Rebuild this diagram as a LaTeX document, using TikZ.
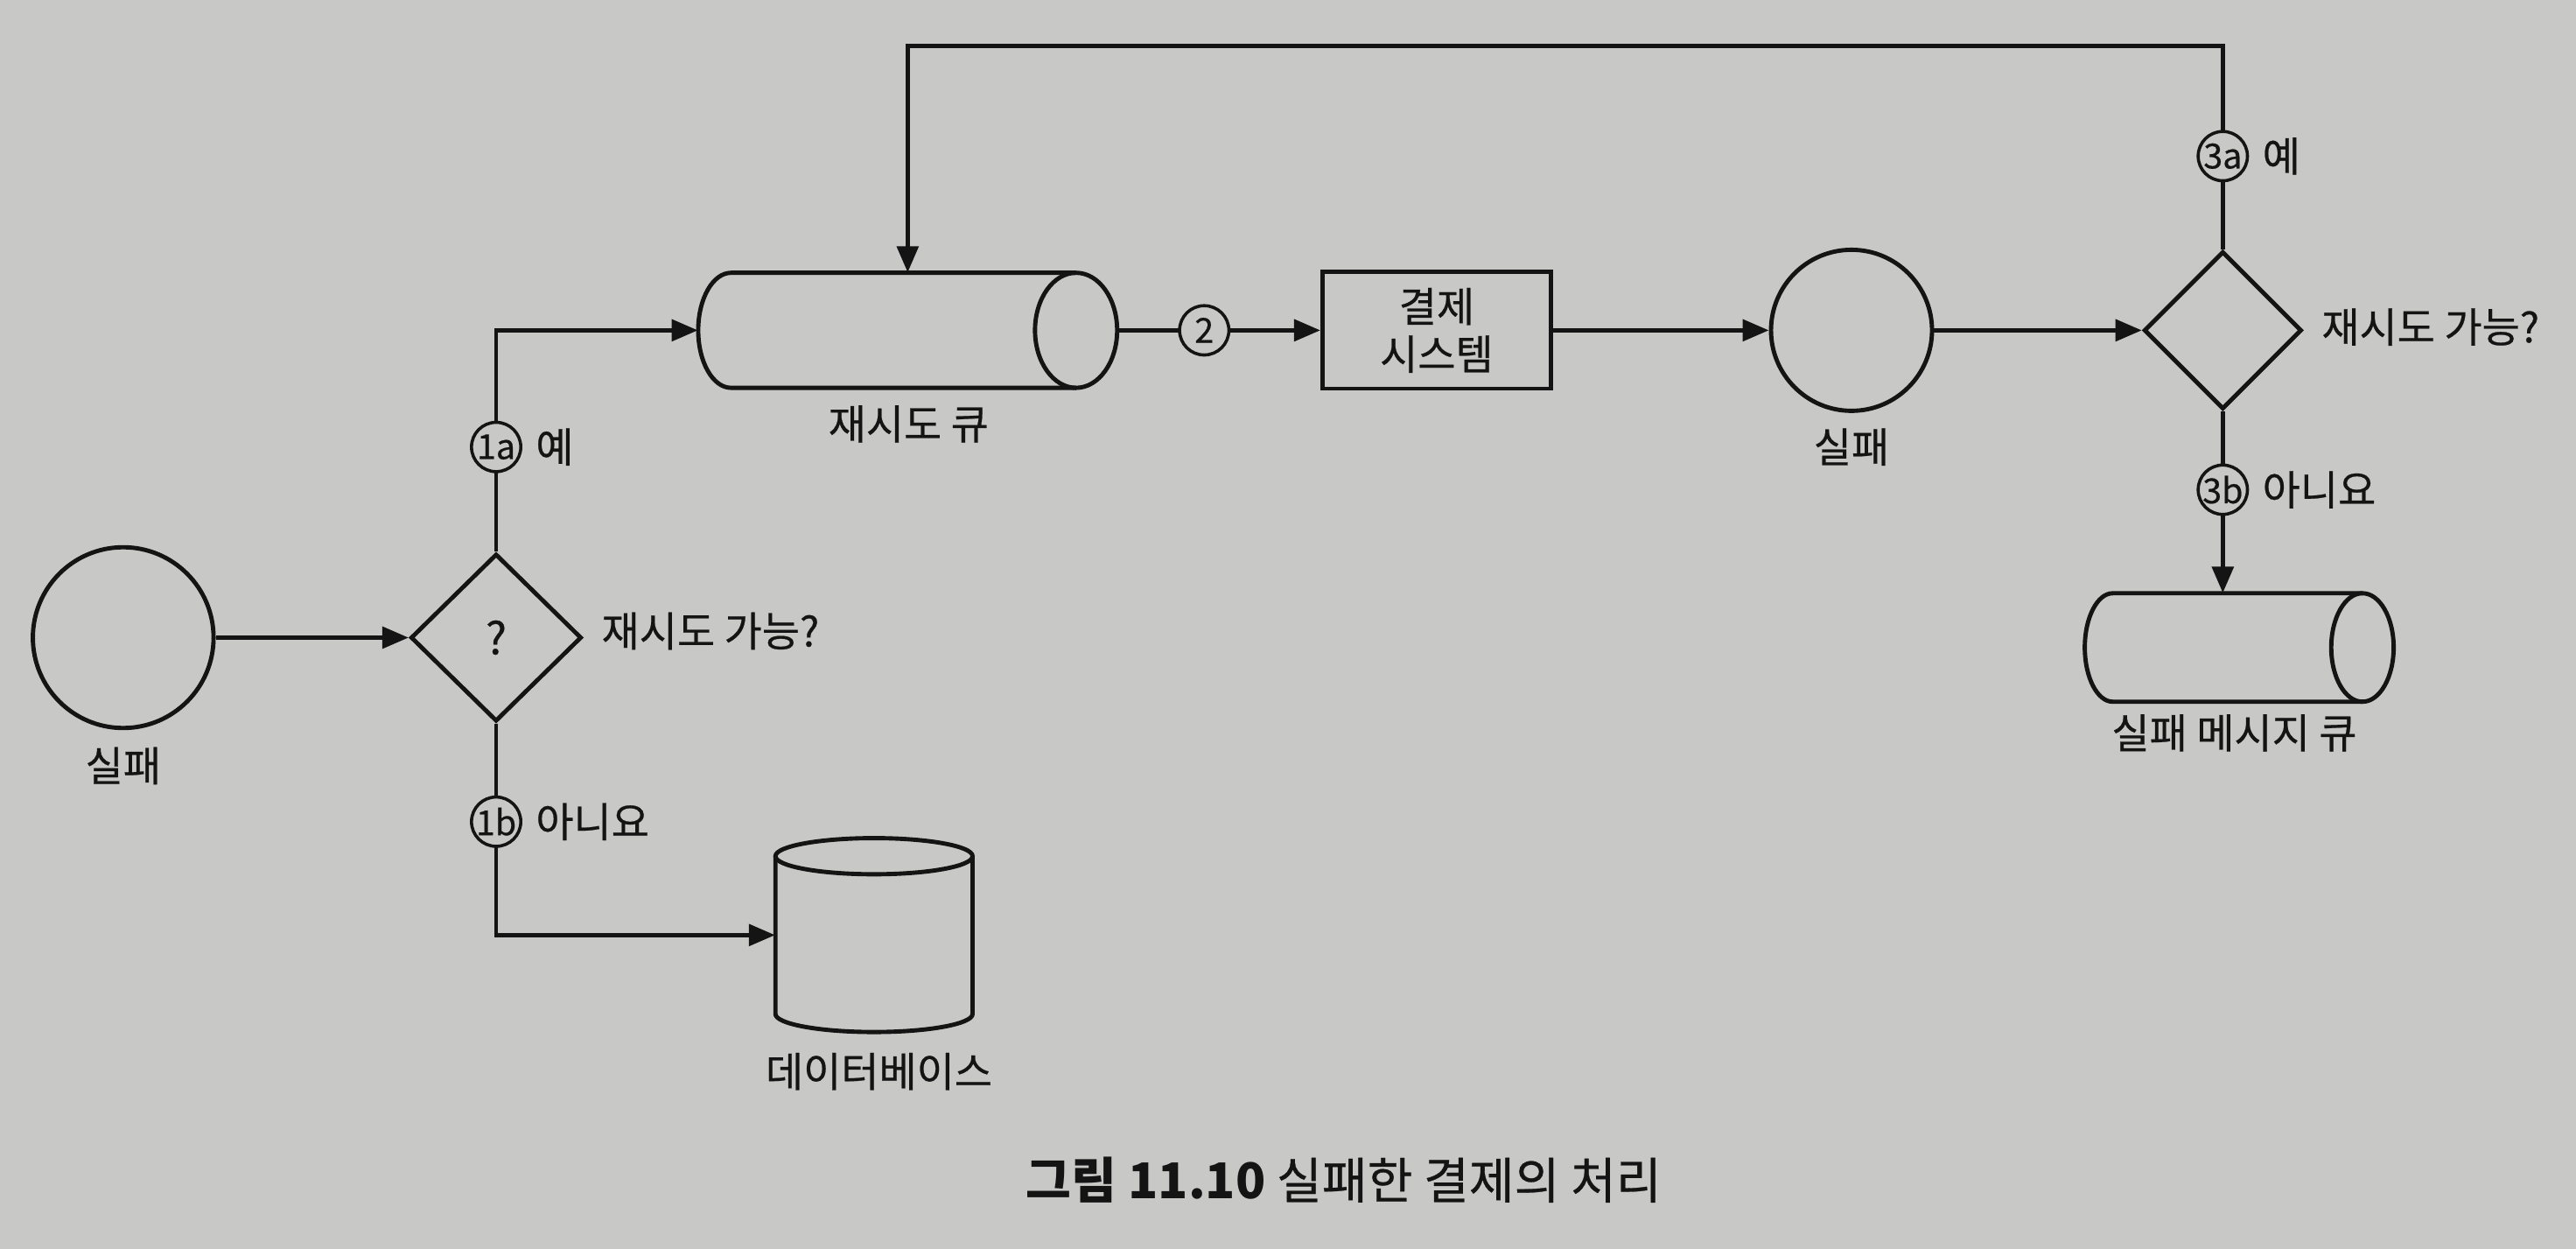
\documentclass[tikz,border=0pt]{standalone}
\usepackage{fontspec}
\setmainfont{Noto Sans CJK KR}
\newfontfamily\labfont{Noto Sans CJK KR}[FakeBold=0.5]
\usetikzlibrary{arrows.meta,shapes.geometric}
\definecolor{paper}{RGB}{200,200,198}
\definecolor{ink}{RGB}{20,20,20}
\begin{document}
\begin{tikzpicture}[x=1pt,y=-1pt,
  shp/.style={draw=ink, line width=2.6pt, inner sep=0pt},
  arr/.style={draw=ink, line width=2.6pt, -{Triangle[length=16pt,width=13pt]}},
  lab/.style={font=\labfont\fontsize{25}{30}\selectfont, text=ink, inner sep=0pt},
  circlab/.style={circle, draw=ink, line width=1.9pt, fill=paper, minimum size=30pt, inner sep=0pt, text=ink, font=\labfont\fontsize{21}{21}\selectfont},
  outline/.style={draw=ink, line width=2.6pt}]
\fill[paper] (0,0) rectangle (1568,760);
\useasboundingbox (0,0) rectangle (1568,760);

% nodes
\node[shp, circle, minimum size=110pt] (f1) at (75,388) {};
\node[lab] (f1l) at (75,466) {실패};
\node[shp, diamond, minimum width=104pt, minimum height=102pt, font=\labfont\fontsize{27}{27}\selectfont, text=ink] (d1) at (302,388) {?};
\node[lab, anchor=west] (d1l) at (366,384) {재시도 가능?};

\node[inner sep=0pt, minimum width=255pt, minimum height=70pt] (rq) at (552.5,201) {};
\node[lab] (rql) at (553,258) {재시도 큐};

\node[shp, rectangle, minimum width=139pt, minimum height=71pt, align=center, font=\labfont\fontsize{25}{29}\selectfont, text=ink] (ps) at (874.5,201) {결제\\시스템};

\node[shp, circle, minimum size=98pt] (f2) at (1127,201) {};
\node[lab] (f2l) at (1127,272) {실패};

\node[shp, diamond, minimum width=96pt, minimum height=96pt] (d2) at (1353,201) {};
\node[lab, anchor=west] (d2l) at (1413,199) {재시도 가능?};

\node[inner sep=0pt, minimum width=188pt, minimum height=66pt] (dlq) at (1363,394) {};
\node[lab] (dlql) at (1360,446) {실패 메시지 큐};

\node[inner sep=0pt, minimum width=120pt, minimum height=118pt] (db) at (532,569) {};
\node[lab] (dbl) at (535,652) {데이터베이스};

% cylinder outlines
\draw[outline] (655,166) -- (445,166) arc[start angle=90,end angle=270,x radius=20pt,y radius=35pt] -- (655,236);
\draw[outline] (655,201) ellipse [x radius=25pt, y radius=35pt];

\draw[outline] (1438,361) -- (1286,361) arc[start angle=90,end angle=270,x radius=17pt,y radius=33pt] -- (1438,427);
\draw[outline] (1438,394) ellipse [x radius=19pt, y radius=33pt];

\draw[outline] (472,521) -- (472,617) arc[start angle=180,end angle=360,x radius=60pt,y radius=11pt] -- (592,521);
\draw[outline] (532,521) ellipse [x radius=60pt, y radius=11pt];

% connectors
\coordinate (top) at (0,28);
\draw[arr] (f1) -- (d1);
\draw[arr] (d1.north) |- (rq.west);
\draw[arr] (d1.south) |- (db.west);
\draw[arr] (rq.east) -- (ps.west);
\draw[arr] (ps) -- (f2);
\draw[arr] (f2) -- (d2);
\draw[arr] (d2.north) -- (d2.north |- top) -| (rq.north);
\draw[arr] (d2.south) -- (d2.south |- dlq.north);

% circled step labels
\node[circlab] (l1a) at (302,272) {1a};
\node[lab, anchor=west] (t1a) at ([xshift=8pt]l1a.east) {예};
\node[circlab] (l1b) at (302,500) {1b};
\node[lab, anchor=west] (t1b) at ([xshift=8pt]l1b.east) {아니요};
\node[circlab] (l2) at (733,201) {2};
\node[circlab] (l3a) at (1353,95) {3a};
\node[lab, anchor=west] (t3a) at ([xshift=8pt]l3a.east) {예};
\node[circlab] (l3b) at (1353,298) {3b};
\node[lab, anchor=west] (t3b) at ([xshift=8pt]l3b.east) {아니요};

% caption
\node[font=\fontsize{30}{34}\selectfont, text=ink, inner sep=0pt] (cap) at (818,718) {\textbf{그림 11.10} {\labfont 실패한 결제의 처리}};
\end{tikzpicture}
\end{document}
